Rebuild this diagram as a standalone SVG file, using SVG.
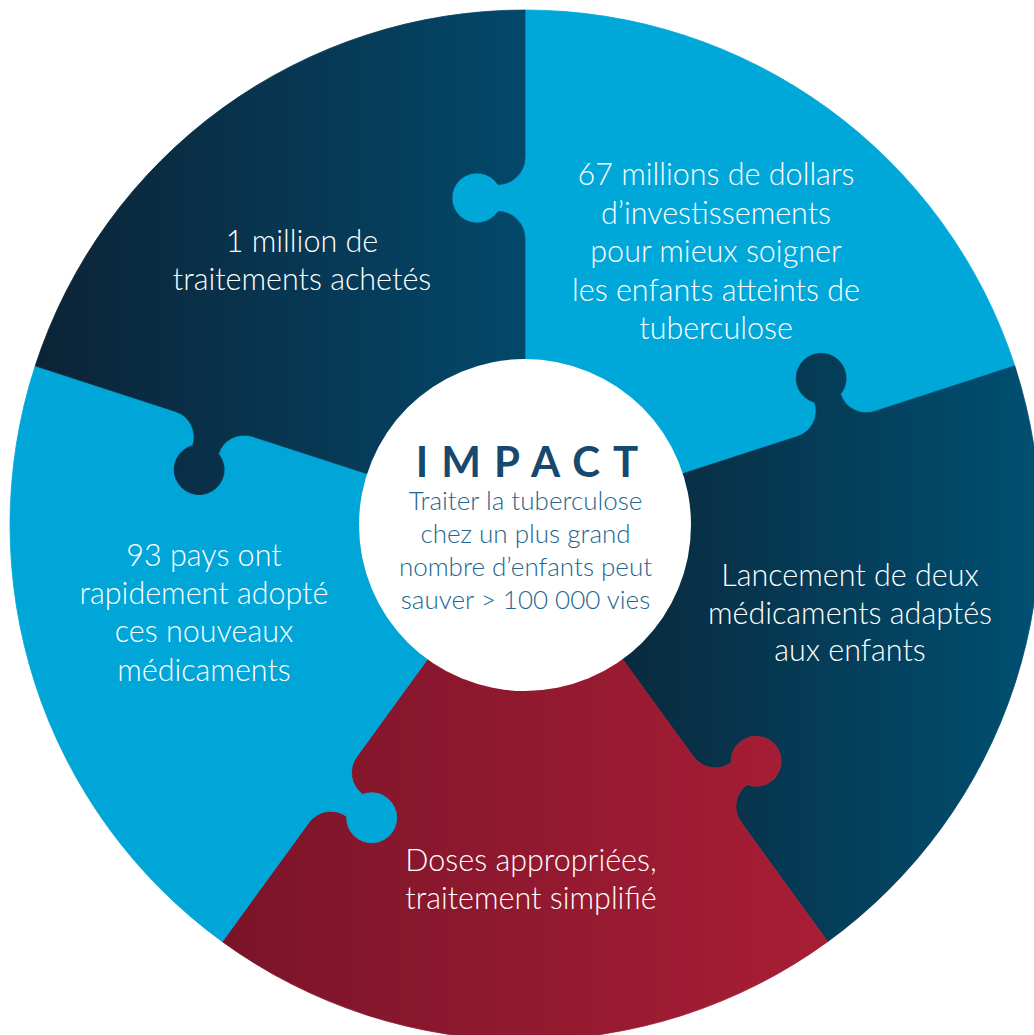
<svg xmlns="http://www.w3.org/2000/svg" width="1034" height="1035" viewBox="0 0 1034 1035">
<defs>
<style>
.pt{font-family:"Lato","Open Sans","Liberation Sans",sans-serif;font-weight:300;font-size:30.5px;fill:#ffffff;text-anchor:middle}
.ct{font-family:"Lato","Open Sans","Liberation Sans",sans-serif;font-weight:300;font-size:26px;fill:#226690;text-anchor:middle}
.imp{font-family:"Lato","Liberation Sans",sans-serif;font-weight:700;font-size:42px;fill:#17486d;text-anchor:middle;letter-spacing:13px}
</style>
<linearGradient id="gTL" gradientUnits="userSpaceOnUse" x1="35" y1="0" x2="525" y2="0">
<stop offset="0" stop-color="#0c2336"/><stop offset="1" stop-color="#03486a"/>
</linearGradient>
<linearGradient id="gR" gradientUnits="userSpaceOnUse" x1="600" y1="0" x2="1034" y2="0">
<stop offset="0" stop-color="#0a283b"/><stop offset="1" stop-color="#004f71"/>
</linearGradient>
<linearGradient id="gRed" gradientUnits="userSpaceOnUse" x1="222" y1="0" x2="828" y2="0">
<stop offset="0" stop-color="#7a1429"/><stop offset="1" stop-color="#a81e35"/>
</linearGradient>
</defs>

<g id="piece-top-right">
<path fill="#00a8da" stroke="#00a8da" stroke-width="0.8" d="M525,525 L525,238.5 A27,27 0 0 0 498,211.5 A25,25 0 1 1 498,184.5 A27,27 0 0 0 525,157.5 L525,10 A515,515 0 0 1 1014.79,365.86 L874.51,411.44 A27,27 0 0 1 840.49,394.10 A25,25 0 1 0 814.81,402.44 A27,27 0 0 1 797.48,436.47 Z"/>
</g>
<g id="piece-right">
<path fill="url(#gR)" stroke="url(#gR)" stroke-width="0.8" d="M525,525 L797.48,436.47 A27,27 0 0 0 814.81,402.44 A25,25 0 1 1 840.49,394.10 A27,27 0 0 0 874.51,411.44 L1014.79,365.86 A515,515 0 0 1 827.71,941.64 L741.01,822.31 A27,27 0 0 1 746.98,784.60 A25,25 0 1 0 731.11,762.76 A27,27 0 0 1 693.40,756.78 Z"/>
</g>
<g id="piece-bottom">
<path fill="url(#gRed)" stroke="url(#gRed)" stroke-width="0.8" d="M525,525 L693.40,756.78 A27,27 0 0 0 731.11,762.76 A25,25 0 1 1 746.98,784.60 A27,27 0 0 0 741.01,822.31 L827.71,941.64 A515,515 0 0 1 222.29,941.64 L308.99,822.31 A27,27 0 0 1 346.70,816.34 A25,25 0 1 0 362.57,794.50 A27,27 0 0 1 356.60,756.78 Z"/>
</g>
<g id="piece-left">
<path fill="#00a6d8" stroke="#00a6d8" stroke-width="0.8" d="M525,525 L356.60,756.78 A27,27 0 0 0 362.57,794.50 A25,25 0 1 1 346.70,816.34 A27,27 0 0 0 308.99,822.31 L222.29,941.64 A515,515 0 0 1 35.21,365.86 L175.49,411.44 A27,27 0 0 1 192.82,445.46 A25,25 0 1 0 218.50,453.80 A27,27 0 0 1 252.52,436.47 Z"/>
</g>
<g id="piece-top-left">
<path fill="url(#gTL)" stroke="url(#gTL)" stroke-width="0.8" d="M525,525 L252.52,436.47 A27,27 0 0 0 218.50,453.80 A25,25 0 1 1 192.82,445.46 A27,27 0 0 0 175.49,411.44 L35.21,365.86 A515,515 0 0 1 525,10 L525,157.5 A27,27 0 0 1 498,184.5 A25,25 0 1 0 498,211.5 A27,27 0 0 1 525,238.5 Z"/>
</g>

<g id="center">
<circle cx="525" cy="525" r="166" fill="#ffffff"/>
<text class="imp" x="533.5" y="477">IMPACT</text>
<text class="ct" x="525.5" y="510">Traiter la tuberculose</text>
<text class="ct" x="525.5" y="543">chez un plus grand</text>
<text class="ct" x="525.5" y="576">nombre d’enfants peut</text>
<text class="ct" x="525.5" y="609">sauver &gt; 100 000 vies</text>
</g>

<g id="labels">
<text class="pt" x="302" y="252">1 million de</text>
<text class="pt" x="302" y="290">traitements achetés</text>
<text class="pt" x="716" y="185">67 millions de dollars</text>
<text class="pt" x="716" y="224">d’investissements</text>
<text class="pt" x="716" y="262">pour mieux soigner</text>
<text class="pt" x="716" y="301">les enfants atteints de</text>
<text class="pt" x="716" y="339">tuberculose</text>
<text class="pt" x="850" y="586">Lancement de deux</text>
<text class="pt" x="850" y="624">médicaments adaptés</text>
<text class="pt" x="850" y="661">aux enfants</text>
<text class="pt" x="204" y="566">93 pays ont</text>
<text class="pt" x="204" y="604">rapidement adopté</text>
<text class="pt" x="204" y="642">ces nouveaux</text>
<text class="pt" x="204" y="681">médicaments</text>
<text class="pt" x="531" y="871">Doses appropriées,</text>
<text class="pt" x="531" y="909">traitement simplifié</text>
</g>
</svg>
